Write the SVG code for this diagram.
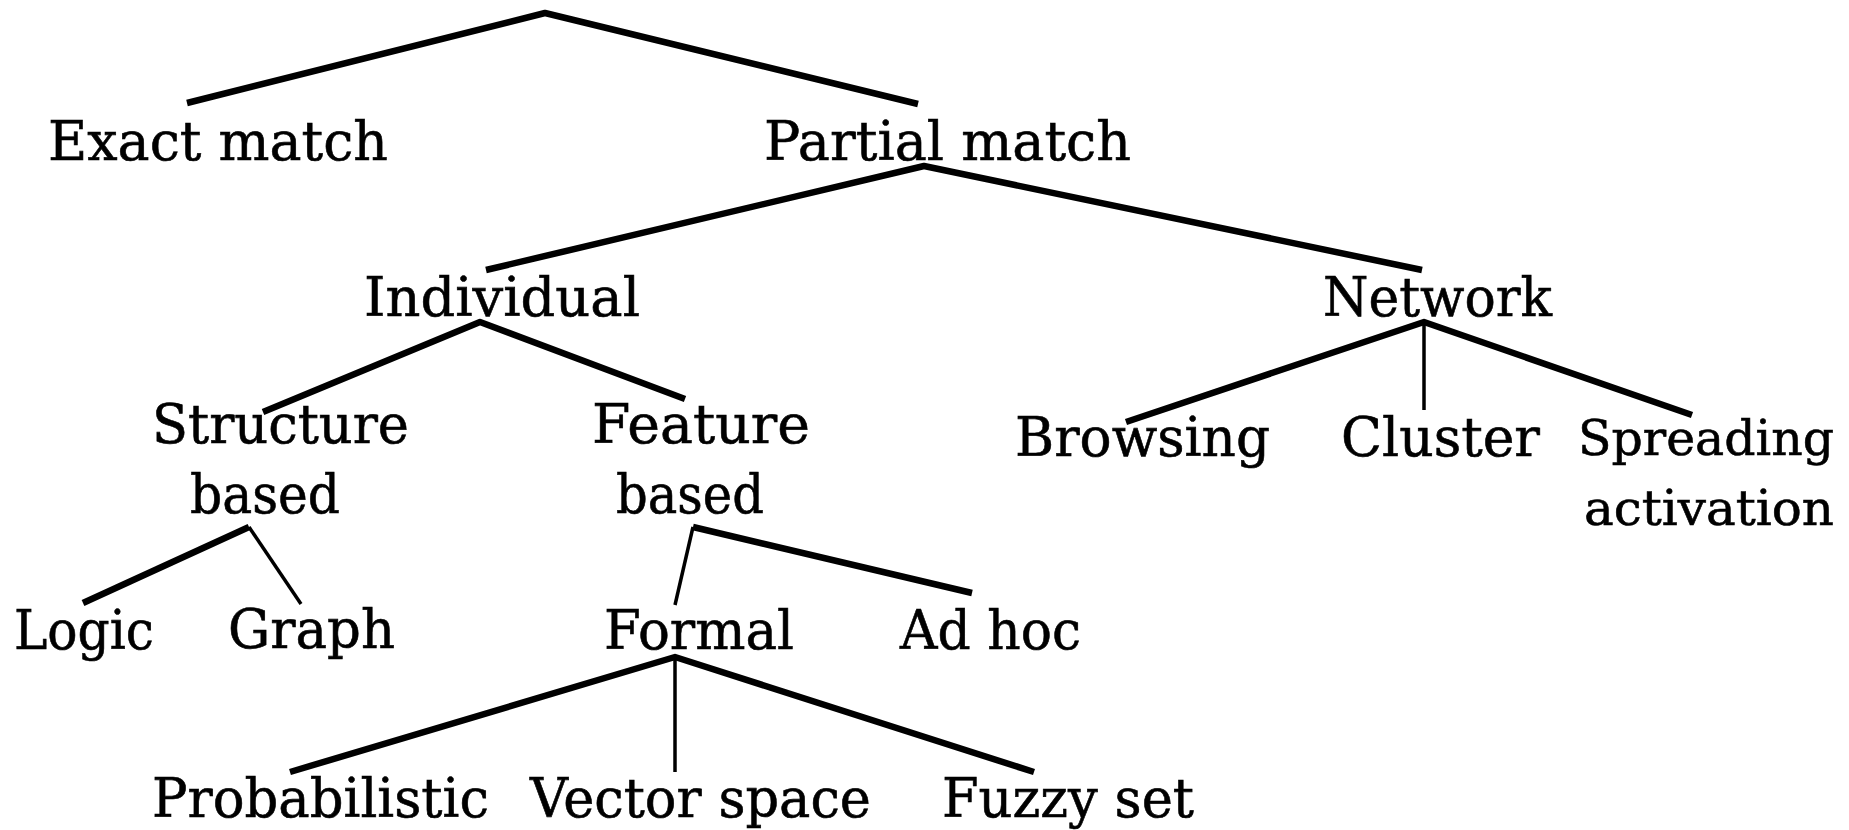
<svg xmlns="http://www.w3.org/2000/svg" width="1849" height="830" viewBox="0 0 1849 830">
<style>
.t{font-family:"DejaVu Serif","Liberation Serif",serif;font-size:54px;fill:#000;stroke:#000;stroke-width:0.6}
.s{font-size:49px}
.k{fill:none;stroke:#000;stroke-width:6.5;stroke-linejoin:round;stroke-linecap:butt}
.n{fill:none;stroke:#000;stroke-width:3.5}
</style>
<rect width="1849" height="830" fill="#fff"/>
<g id="connectors">
<polyline class="k" points="187,103 545,13 918,104"/>
<polyline class="k" points="486,270 924,166 1422,270"/>
<polyline class="k" points="263,412 480,322 685,399"/>
<polyline class="k" points="1126,422 1424,322 1692,415"/>
<line class="n" x1="1424" y1="322" x2="1424" y2="410"/>
<line class="k" x1="249" y1="527" x2="83" y2="603"/>
<line class="n" x1="249" y1="527" x2="301" y2="604"/>
<line class="k" x1="693" y1="527" x2="972" y2="593"/>
<line class="n" x1="693" y1="527" x2="675" y2="605"/>
<polyline class="k" points="290,772 675,657 1034,772"/>
<line class="n" x1="675" y1="657" x2="675" y2="772"/>
</g>
<g id="exact"><text class="t" x="48" y="160" textLength="340" lengthAdjust="spacingAndGlyphs">Exact match</text></g>
<g id="partial"><text class="t" x="764" y="160" textLength="367" lengthAdjust="spacingAndGlyphs">Partial match</text></g>
<g id="individual"><text class="t" x="364" y="316" textLength="276" lengthAdjust="spacingAndGlyphs">Individual</text></g>
<g id="network"><text class="t" x="1323" y="316" textLength="229" lengthAdjust="spacingAndGlyphs">Network</text></g>
<g id="structure"><text class="t" x="152" y="443" textLength="257" lengthAdjust="spacingAndGlyphs">Structure</text><text class="t" x="190" y="513" textLength="150" lengthAdjust="spacingAndGlyphs">based</text></g>
<g id="feature"><text class="t" x="592" y="443" textLength="218" lengthAdjust="spacingAndGlyphs">Feature</text><text class="t" x="616" y="513" textLength="148" lengthAdjust="spacingAndGlyphs">based</text></g>
<g id="browsing"><text class="t" x="1015" y="456" textLength="255" lengthAdjust="spacingAndGlyphs">Browsing</text></g>
<g id="cluster"><text class="t" x="1341" y="456" textLength="199" lengthAdjust="spacingAndGlyphs">Cluster</text></g>
<g id="spreading"><text class="t s" x="1578" y="455" textLength="256" lengthAdjust="spacingAndGlyphs">Spreading</text><text class="t s" x="1584" y="525" textLength="250" lengthAdjust="spacingAndGlyphs">activation</text></g>
<g id="logic"><text class="t" x="14" y="649" textLength="140" lengthAdjust="spacingAndGlyphs">Logic</text></g>
<g id="graph"><text class="t" x="228" y="648" textLength="167" lengthAdjust="spacingAndGlyphs">Graph</text></g>
<g id="formal"><text class="t" x="604" y="649" textLength="190" lengthAdjust="spacingAndGlyphs">Formal</text></g>
<g id="adhoc"><text class="t" x="900" y="649" textLength="181" lengthAdjust="spacingAndGlyphs">Ad hoc</text></g>
<g id="probabilistic"><text class="t" x="152" y="817" textLength="337" lengthAdjust="spacingAndGlyphs">Probabilistic</text></g>
<g id="vector"><text class="t" x="530" y="817" textLength="341" lengthAdjust="spacingAndGlyphs">Vector space</text></g>
<g id="fuzzy"><text class="t" x="942" y="817" textLength="252" lengthAdjust="spacingAndGlyphs">Fuzzy set</text></g>
</svg>
